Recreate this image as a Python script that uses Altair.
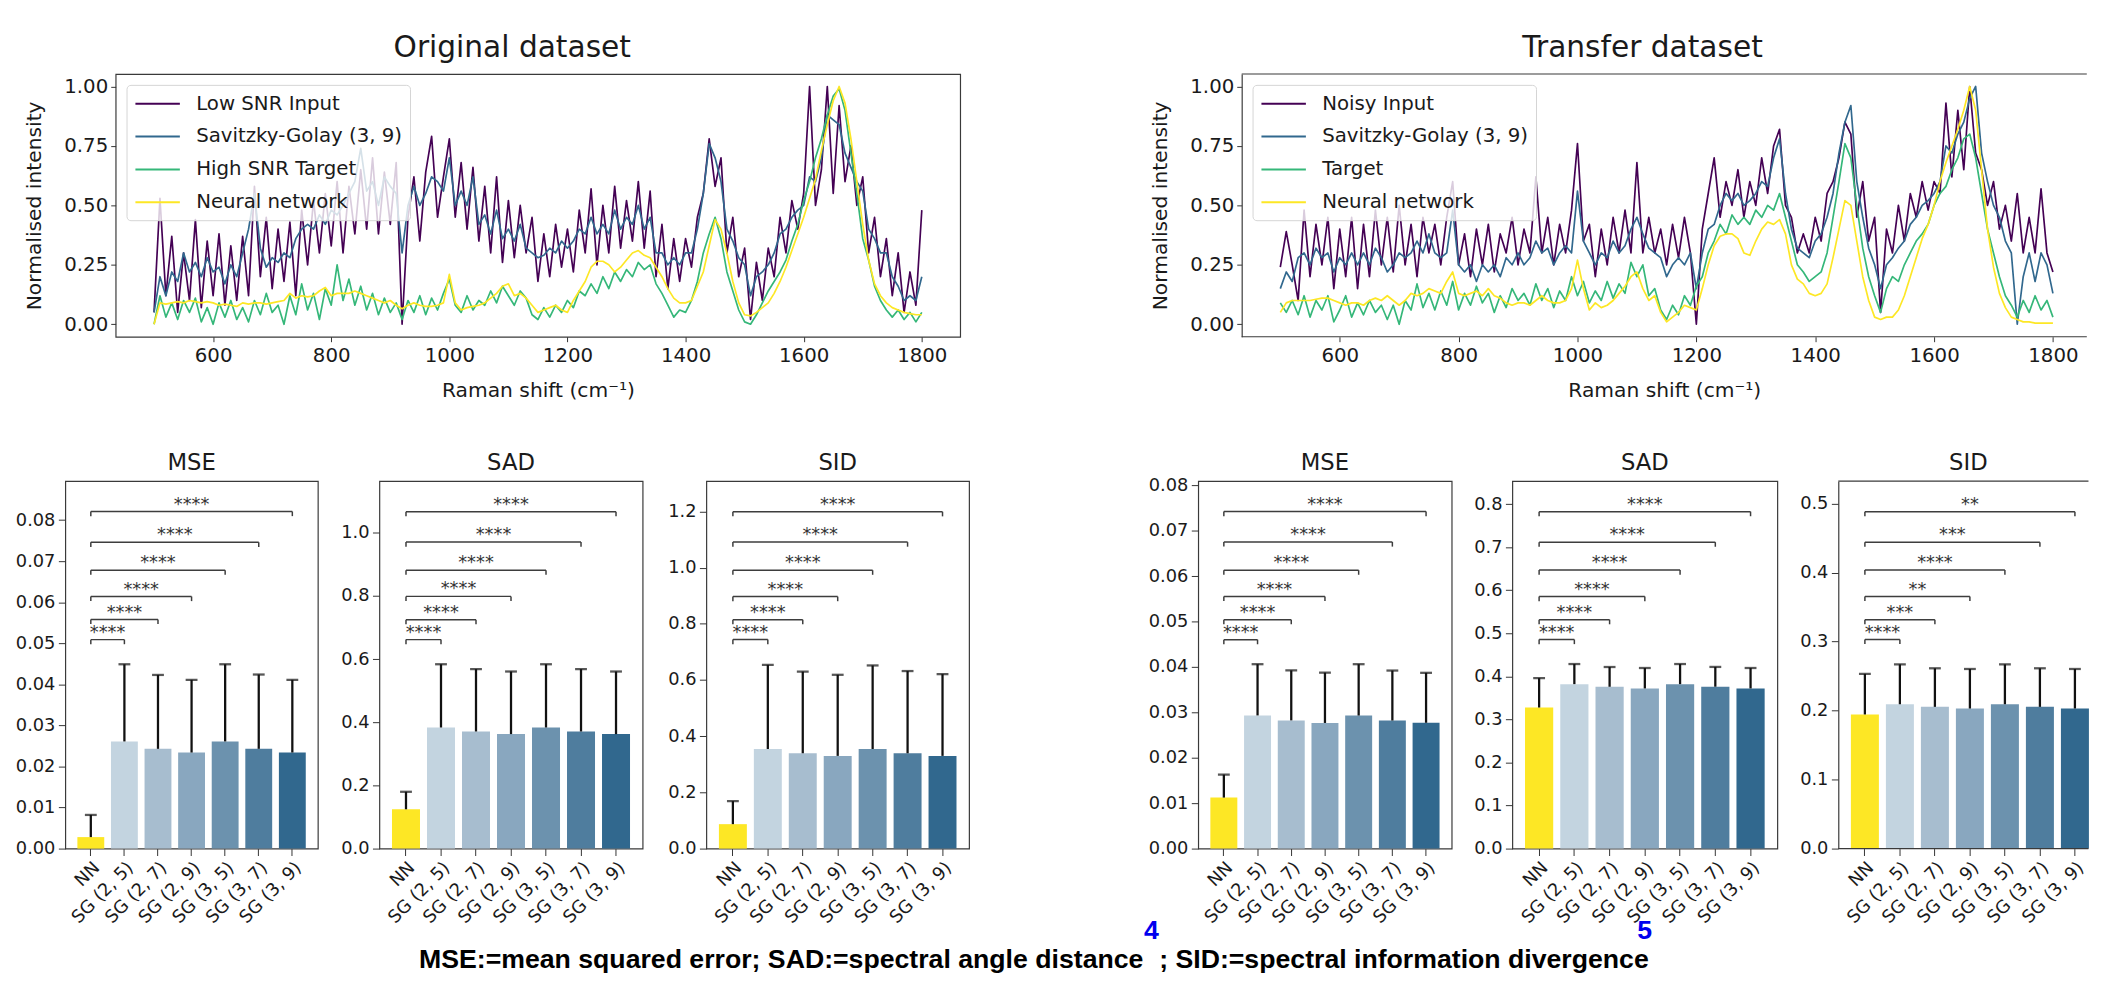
import altair as alt
import pandas as pd

FONT = "DejaVu Sans"
FOOT_FONT = "Liberation Sans"
INK = "#1a1a1a"
FRAME = "#3a3a3a"

# ---------------- spectra (Raman shift grid, cm^-1) ----------------
SHIFT = list(range(500, 1801, 10))

O_INPUT = [
    0.05, 0.53, 0.12, 0.37, 0.05, 0.30, 0.10, 0.44, 0.07, 0.35,
    0.12, 0.38, 0.08, 0.33, 0.10, 0.37, 0.12, 0.58, 0.20, 0.45,
    0.15, 0.40, 0.18, 0.43, 0.12, 0.48, 0.25, 0.52, 0.30, 0.55,
    0.33, 0.60, 0.30, 0.58, 0.38, 0.65, 0.40, 0.70, 0.38, 0.64,
    0.42, 0.68, 0.00, 0.45, 0.62, 0.35, 0.64, 0.79, 0.45, 0.62,
    0.78, 0.45, 0.68, 0.40, 0.66, 0.35, 0.58, 0.30, 0.62, 0.26,
    0.52, 0.28, 0.50, 0.30, 0.45, 0.18, 0.38, 0.20, 0.42, 0.24,
    0.40, 0.22, 0.48, 0.30, 0.57, 0.25, 0.50, 0.30, 0.58, 0.32,
    0.52, 0.35, 0.60, 0.32, 0.56, 0.20, 0.42, 0.15, 0.36, 0.18,
    0.36, 0.24, 0.45, 0.55, 0.78, 0.58, 0.70, 0.30, 0.45, 0.20,
    0.32, 0.02, 0.26, 0.10, 0.32, 0.20, 0.45, 0.30, 0.52, 0.40,
    0.55, 1.00, 0.50, 0.65, 1.00, 0.55, 0.92, 0.60, 0.75, 0.50,
    0.62, 0.30, 0.45, 0.20, 0.36, 0.12, 0.30, 0.05, 0.22, 0.08,
    0.48]
O_SG = [
    0.05, 0.20, 0.12, 0.22, 0.18, 0.30, 0.22, 0.26, 0.20, 0.28,
    0.22, 0.24, 0.17, 0.25, 0.20, 0.30, 0.40, 0.55, 0.32, 0.24,
    0.28, 0.26, 0.30, 0.28, 0.36, 0.40, 0.42, 0.40, 0.46, 0.42,
    0.48, 0.46, 0.50, 0.55, 0.60, 0.74, 0.56, 0.60, 0.50, 0.62,
    0.58, 0.55, 0.30, 0.50, 0.58, 0.50, 0.55, 0.62, 0.60, 0.56,
    0.70, 0.50, 0.56, 0.50, 0.62, 0.42, 0.46, 0.38, 0.48, 0.36,
    0.40, 0.35, 0.42, 0.32, 0.30, 0.28, 0.29, 0.32, 0.30, 0.35,
    0.32, 0.35, 0.40, 0.38, 0.45, 0.38, 0.42, 0.38, 0.48, 0.40,
    0.45, 0.42, 0.50, 0.40, 0.45, 0.30, 0.30, 0.25, 0.28, 0.25,
    0.30, 0.30, 0.40, 0.55, 0.76, 0.70, 0.60, 0.40, 0.35, 0.28,
    0.25, 0.12, 0.20, 0.22, 0.25, 0.30, 0.38, 0.40, 0.45, 0.48,
    0.50, 0.62, 0.60, 0.70, 0.88, 0.86, 0.84, 0.72, 0.66, 0.60,
    0.56, 0.40, 0.36, 0.30, 0.30, 0.20, 0.16, 0.10, 0.12, 0.10,
    0.20]
O_TARGET = [
    0.00, 0.12, 0.03, 0.09, 0.02, 0.10, 0.05, 0.11, 0.01, 0.07,
    0.00, 0.09, 0.03, 0.10, 0.02, 0.07, 0.01, 0.10, 0.04, 0.13,
    0.05, 0.08, 0.00, 0.12, 0.04, 0.17, 0.06, 0.13, 0.02, 0.15,
    0.08, 0.25, 0.10, 0.19, 0.08, 0.16, 0.06, 0.13, 0.04, 0.11,
    0.05, 0.09, 0.02, 0.10, 0.05, 0.12, 0.04, 0.11, 0.06, 0.13,
    0.19, 0.08, 0.05, 0.12, 0.06, 0.10, 0.08, 0.14, 0.09, 0.16,
    0.12, 0.08, 0.14, 0.11, 0.04, 0.02, 0.07, 0.03, 0.08, 0.05,
    0.10, 0.07, 0.14, 0.12, 0.17, 0.13, 0.20, 0.15, 0.22, 0.18,
    0.23, 0.20, 0.26, 0.23, 0.25, 0.17, 0.13, 0.08, 0.03, 0.06,
    0.05, 0.10, 0.18, 0.30, 0.38, 0.45, 0.36, 0.22, 0.14, 0.06,
    0.01, 0.00, 0.04, 0.09, 0.14, 0.18, 0.22, 0.27, 0.35, 0.42,
    0.52, 0.60, 0.70, 0.78, 0.88, 0.96, 0.99, 0.90, 0.72, 0.55,
    0.36, 0.27, 0.16, 0.10, 0.06, 0.03, 0.06, 0.02, 0.05, 0.01,
    0.05]
O_NN = [
    0.00, 0.09, 0.085, 0.09, 0.095, 0.09, 0.10, 0.095, 0.09, 0.095,
    0.09, 0.08, 0.085, 0.08, 0.075, 0.09, 0.085, 0.09, 0.09, 0.085,
    0.09, 0.095, 0.10, 0.13, 0.11, 0.12, 0.115, 0.12, 0.14, 0.155,
    0.12, 0.13, 0.13, 0.13, 0.14, 0.13, 0.12, 0.11, 0.10, 0.09,
    0.10, 0.08, 0.065, 0.08, 0.09, 0.08, 0.075, 0.075, 0.08, 0.09,
    0.21, 0.09, 0.06, 0.07, 0.075, 0.08, 0.09, 0.11, 0.13, 0.16,
    0.17, 0.12, 0.13, 0.11, 0.08, 0.05, 0.06, 0.07, 0.08, 0.06,
    0.05, 0.10, 0.14, 0.18, 0.24, 0.265, 0.265, 0.25, 0.22, 0.24,
    0.27, 0.30, 0.31, 0.29, 0.28, 0.24, 0.20, 0.15, 0.11, 0.09,
    0.09, 0.10, 0.16, 0.22, 0.33, 0.44, 0.40, 0.30, 0.18, 0.09,
    0.04, 0.035, 0.05, 0.07, 0.09, 0.13, 0.18, 0.24, 0.31, 0.38,
    0.45, 0.53, 0.61, 0.73, 0.84, 0.94, 1.00, 0.93, 0.78, 0.60,
    0.42, 0.27, 0.17, 0.12, 0.09, 0.07, 0.06, 0.05, 0.045, 0.04,
    0.04]

T_INPUT = [
    0.24, 0.39, 0.25, 0.10, 0.48, 0.20, 0.42, 0.25, 0.45, 0.15,
    0.40, 0.20, 0.45, 0.15, 0.42, 0.20, 0.48, 0.25, 0.45, 0.22,
    0.50, 0.25, 0.42, 0.20, 0.45, 0.30, 0.42, 0.25, 0.45, 0.60,
    0.25, 0.38, 0.20, 0.40, 0.25, 0.42, 0.22, 0.38, 0.30, 0.45,
    0.25, 0.40, 0.30, 0.62, 0.30, 0.45, 0.25, 0.42, 0.30, 0.48,
    0.76, 0.35, 0.42, 0.20, 0.40, 0.25, 0.45, 0.30, 0.48, 0.30,
    0.68, 0.30, 0.45, 0.30, 0.40, 0.25, 0.42, 0.28, 0.45, 0.30,
    0.00, 0.40, 0.55, 0.70, 0.45, 0.60, 0.50, 0.65, 0.45, 0.60,
    0.50, 0.70, 0.55, 0.75, 0.82, 0.50, 0.45, 0.30, 0.38, 0.30,
    0.45, 0.35, 0.55, 0.60, 0.70, 0.85, 0.80, 0.45, 0.60, 0.35,
    0.45, 0.05, 0.40, 0.30, 0.50, 0.35, 0.55, 0.45, 0.60, 0.48,
    0.60, 0.55, 0.93, 0.62, 0.90, 0.65, 1.00, 0.72, 0.65, 0.50,
    0.60, 0.40, 0.50, 0.35, 0.55, 0.30, 0.45, 0.30, 0.57, 0.30,
    0.22]
T_SG = [
    0.15, 0.22, 0.18, 0.28, 0.30, 0.25, 0.32, 0.28, 0.30, 0.22,
    0.28, 0.25, 0.30, 0.25, 0.30, 0.25, 0.32, 0.28, 0.22, 0.25,
    0.30, 0.28, 0.30, 0.35, 0.30, 0.38, 0.30, 0.28, 0.30, 0.48,
    0.25, 0.22, 0.25, 0.18, 0.25, 0.22, 0.25, 0.20, 0.28, 0.25,
    0.30, 0.25, 0.28, 0.35, 0.30, 0.32, 0.25, 0.30, 0.33, 0.30,
    0.56, 0.35, 0.30, 0.25, 0.30, 0.28, 0.35, 0.30, 0.33, 0.40,
    0.45, 0.38, 0.32, 0.30, 0.28, 0.20, 0.25, 0.28, 0.25, 0.30,
    0.15, 0.30, 0.40, 0.42, 0.50, 0.55, 0.52, 0.55, 0.50, 0.52,
    0.55, 0.60, 0.58, 0.70, 0.78, 0.55, 0.40, 0.32, 0.30, 0.28,
    0.35, 0.38, 0.45, 0.55, 0.72, 0.85, 0.92, 0.60, 0.45, 0.32,
    0.25, 0.15, 0.25, 0.28, 0.32, 0.35, 0.42, 0.45, 0.50, 0.52,
    0.55, 0.60, 0.75, 0.72, 0.80, 0.85, 0.95, 1.00, 0.72, 0.60,
    0.50, 0.45, 0.35, 0.30, 0.00, 0.20, 0.30, 0.18, 0.30, 0.25,
    0.13]
T_TARGET = [
    0.09, 0.05, 0.10, 0.04, 0.12, 0.03, 0.10, 0.06, 0.12, 0.01,
    0.06, 0.12, 0.03, 0.09, 0.04, 0.10, 0.05, 0.08, 0.02, 0.08,
    0.00, 0.10, 0.06, 0.17, 0.07, 0.13, 0.06, 0.14, 0.08, 0.18,
    0.06, 0.13, 0.08, 0.16, 0.09, 0.13, 0.05, 0.12, 0.07, 0.15,
    0.10, 0.13, 0.08, 0.17, 0.10, 0.15, 0.07, 0.14, 0.10, 0.20,
    0.12, 0.18, 0.09, 0.14, 0.10, 0.18, 0.11, 0.17, 0.13, 0.26,
    0.20, 0.25, 0.12, 0.15, 0.06, 0.02, 0.08, 0.04, 0.12, 0.08,
    0.16, 0.20, 0.30, 0.35, 0.42, 0.38, 0.46, 0.42, 0.45, 0.42,
    0.48, 0.45, 0.50, 0.48, 0.55, 0.45, 0.35, 0.25, 0.22, 0.18,
    0.20, 0.22, 0.30, 0.45, 0.60, 0.76, 0.70, 0.50, 0.32, 0.20,
    0.12, 0.05, 0.15, 0.20, 0.18, 0.25, 0.30, 0.35, 0.38, 0.42,
    0.50, 0.55, 0.58, 0.65, 0.70, 0.78, 0.80, 0.70, 0.55, 0.40,
    0.30, 0.20, 0.12, 0.08, 0.03, 0.10, 0.05, 0.12, 0.06, 0.10,
    0.03]
T_NN = [
    0.05, 0.09, 0.10, 0.10, 0.10, 0.10, 0.105, 0.11, 0.11, 0.10,
    0.09, 0.08, 0.09, 0.09, 0.08, 0.10, 0.11, 0.10, 0.12, 0.10,
    0.08, 0.10, 0.13, 0.12, 0.13, 0.15, 0.14, 0.13, 0.18, 0.22,
    0.13, 0.12, 0.13, 0.14, 0.12, 0.15, 0.12, 0.11, 0.09, 0.08,
    0.09, 0.09, 0.08, 0.10, 0.12, 0.10, 0.09, 0.09, 0.10, 0.15,
    0.27, 0.15, 0.06, 0.09, 0.07, 0.08, 0.10, 0.13, 0.16, 0.20,
    0.22, 0.15, 0.10, 0.12, 0.05, 0.01, 0.03, 0.05, 0.08, 0.07,
    0.06, 0.15, 0.25, 0.33, 0.37, 0.38, 0.38, 0.36, 0.30, 0.29,
    0.35, 0.40, 0.43, 0.42, 0.44, 0.38, 0.25, 0.19, 0.17, 0.13,
    0.12, 0.13, 0.17, 0.28, 0.40, 0.52, 0.50, 0.35, 0.20, 0.10,
    0.03, 0.02, 0.03, 0.03, 0.06, 0.12, 0.20, 0.28, 0.36, 0.42,
    0.50, 0.60, 0.68, 0.75, 0.82, 0.90, 1.00, 0.90, 0.65, 0.40,
    0.24, 0.13, 0.07, 0.03, 0.02, 0.01, 0.01, 0.005, 0.005, 0.005,
    0.005]

for _arr in (O_INPUT, O_SG, O_TARGET, O_NN, T_INPUT, T_SG, T_TARGET, T_NN):
    assert len(_arr) == len(SHIFT), len(_arr)

O_NAMES = ["Low SNR Input", "Savitzky-Golay (3, 9)", "High SNR Target", "Neural network"]
T_NAMES = ["Noisy Input", "Savitzky-Golay (3, 9)", "Target", "Neural network"]
LINE_COLORS = ["#440154", "#31688e", "#35b779", "#fde725"]
X_TICKS = [600, 800, 1000, 1200, 1400, 1600, 1800]
Y_TICKS = [0, 0.25, 0.5, 0.75, 1.0]

# ---------------- metrics ----------------
CATS = ["NN", "SG (2, 5)", "SG (2, 7)", "SG (2, 9)", "SG (3, 5)", "SG (3, 7)", "SG (3, 9)"]
BAR_COLORS = ["#fde725", "#c3d4e0", "#a7bdcf", "#89a7bf", "#6c92ae", "#4f7d9e", "#31688e"]

O_MSE_MEAN = [0.0028, 0.0261, 0.0243, 0.0234, 0.0261, 0.0243, 0.0234]
O_MSE_UP = [0.0082, 0.0449, 0.0423, 0.0411, 0.0449, 0.0424, 0.0411]
O_SAD_MEAN = [0.1245, 0.3836, 0.371, 0.3627, 0.3836, 0.371, 0.3627]
O_SAD_UP = [0.180, 0.584, 0.5686, 0.561, 0.584, 0.5686, 0.561]
O_SID_MEAN = [0.087, 0.3546, 0.3394, 0.330, 0.3546, 0.3394, 0.330]
O_SID_UP = [0.169, 0.654, 0.630, 0.6187, 0.652, 0.632, 0.621]
T_MSE_MEAN = [0.01123, 0.02932, 0.02823, 0.02766, 0.0293, 0.0282, 0.0277]
T_MSE_UP = [0.01629, 0.0406, 0.03924, 0.03874, 0.0406, 0.0392, 0.0387]
T_SAD_MEAN = [0.3277, 0.382, 0.3759, 0.372, 0.382, 0.376, 0.372]
T_SAD_UP = [0.396, 0.4287, 0.4218, 0.4195, 0.4287, 0.422, 0.4195]
T_SID_MEAN = [0.1944, 0.2092, 0.2054, 0.203, 0.2092, 0.2054, 0.203]
T_SID_UP = [0.2532, 0.267, 0.2613, 0.2603, 0.267, 0.2613, 0.2603]

# significance brackets NN vs SG_i: height (data units) and stars
BR_END = [1, 2, 3, 4, 5, 6]
O_MSE_H = [0.0509, 0.0558, 0.0614, 0.0678, 0.0746, 0.0821]
O_SAD_H = [0.662, 0.725, 0.799, 0.882, 0.971, 1.067]
O_SID_H = [0.744, 0.815, 0.897, 0.991, 1.091, 1.199]
T_MSE_H = [0.0460, 0.0504, 0.0555, 0.0613, 0.0675, 0.0742]
T_SAD_H = [0.4856, 0.5317, 0.5855, 0.6469, 0.7118, 0.7827]
T_SID_H = [0.3030, 0.3317, 0.3653, 0.4036, 0.4441, 0.4883]
STARS_ALL = ["****", "****", "****", "****", "****", "****"]
T_SID_STARS = ["****", "***", "**", "****", "***", "**"]

FOOT_A = "MSE:=mean squared error; SAD:=spectral angle distance"
FOOT_4 = "4"
FOOT_B = "; SID:=spectral information divergence"
FOOT_5 = "5"


def spacer(w):
    return alt.Chart(pd.DataFrame({"t": [" "]})).mark_text(
        align="left", baseline="top", fontSize=2
    ).encode(text="t:N", x=alt.value(0), y=alt.value(0)).properties(
        width=w, height=1, view=alt.ViewBackground(stroke="transparent"))


def title_text(txt, x, y, size):
    return alt.Chart(pd.DataFrame({"t": [txt]})).mark_text(
        font=FONT, fontSize=size, color=INK, align="center", baseline="alphabetic"
    ).encode(text="t:N", x=alt.value(x), y=alt.value(y))


def frame_edges(width, height):
    # top and bottom spines of a panel whose right edge is cut off by the page
    one = pd.DataFrame({"k": [0]})
    top = alt.Chart(one).mark_rule(color=FRAME, strokeWidth=1.2).encode(
        x=alt.value(0), x2=alt.value(width), y=alt.value(0))
    bottom = alt.Chart(one).mark_rule(color=FRAME, strokeWidth=1.2).encode(
        x=alt.value(0), x2=alt.value(width), y=alt.value(height))
    return [top, bottom]


def spectrum(title, names, series, width, xmax, title_dx, open_right=False):
    rows = []
    for name, vals in zip(names, series):
        for s, v in zip(SHIFT, vals):
            rows.append({"shift": s, "value": v, "series": name})
    df = pd.DataFrame(rows)
    x = alt.X("shift:Q", scale=alt.Scale(domain=[435, xmax], nice=False, zero=False),
              axis=alt.Axis(values=X_TICKS, format="d", title="Raman shift (cm⁻¹)",
                            labelFont=FONT, labelFontSize=20, labelColor=INK, labelPadding=4,
                            labelFlush=False, tickSize=5, tickColor="#333", domain=False, grid=False,
                            titleFont=FONT, titleFontSize=20.5, titleFontWeight="normal",
                            titleColor=INK, titleBaseline="alphabetic", titleY=61))
    y = alt.Y("value:Q", scale=alt.Scale(domain=[-0.0525, 1.0525], nice=False, zero=False),
              axis=alt.Axis(values=Y_TICKS, format=".2f", title="Normalised intensity",
                            labelFont=FONT, labelFontSize=20, labelColor=INK, labelPadding=3,
                            labelFlush=False, tickSize=5, tickColor="#333", grid=False,
                            domain=open_right, domainColor=FRAME, domainWidth=1.2,
                            titleFont=FONT, titleFontSize=20.5, titleFontWeight="normal",
                            titleColor=INK, titleX=-82.5, titleY=133, titleBaseline="middle",
                            titleAlign="center"))
    color = alt.Color("series:N", scale=alt.Scale(domain=names, range=LINE_COLORS),
                      legend=alt.Legend(title=None, orient="top-left", offset=11, padding=8,
                                        fillColor="rgba(255,255,255,0.8)", strokeColor="#d4d4d4",
                                        cornerRadius=4, symbolType="M-2.25,0L2.25,0",
                                        symbolSize=400, symbolOffset=12.5,
                                        symbolStrokeWidth=2, labelFont=FONT, labelFontSize=20,
                                        labelColor=INK, labelOffset=28, rowPadding=12.3,
                                        labelLimit=400))
    layers = [
        alt.Chart(df).transform_filter(alt.datum.series == n).mark_line(
            strokeWidth=1.7, strokeJoin="round", clip=True).encode(x=x, y=y, color=color)
        for n in names
    ]
    layers.append(title_text(title, width / 2 + title_dx, -17.6, 30))
    props = dict(width=width, height=266)
    if open_right:
        layers += frame_edges(width, 266)
        props["view"] = alt.ViewBackground(stroke="transparent")
    return alt.layer(*layers).properties(**props)


def foot_text(txt, x, y, color, align="left"):
    return alt.Chart(pd.DataFrame({"t": [txt]})).mark_text(
        font=FOOT_FONT, fontSize=27, fontWeight="bold", color=color, align=align,
        baseline="alphabetic").encode(text="t:N", x=alt.value(x), y=alt.value(y))


def bar_panel(title, means, uppers, heights, stars, ymax, yticks, fmt, width,
              band_range=None, title_dx=0, extra=None, open_right=False):
    xs_kw = dict(domain=CATS, paddingInner=0.2, paddingOuter=0.36)
    lin_kw = dict(domain=[-0.76, 6.76], nice=False, zero=False)
    if band_range is not None:
        xs_kw["range"] = band_range
        lin_kw["range"] = band_range
    xb = alt.X("cat:N", sort=CATS, scale=alt.Scale(**xs_kw), title=None,
               axis=alt.Axis(labelAngle=-45, labelAlign="right", labelBaseline="top",
                             labelFont=FONT, labelFontSize=18, labelColor=INK, labelPadding=3,
                             labelOverlap=False, labelFlush=False, tickSize=7, tickColor="#333",
                             domain=False, grid=False))
    yscale = alt.Scale(domain=[0, ymax], nice=False, zero=False)
    yaxis = alt.Axis(values=yticks, format=fmt, title=None, labelFont=FONT, labelFontSize=18,
                     labelColor=INK, labelPadding=3.5, labelFlush=False, labelOverlap=False,
                     tickSize=7, tickColor="#333", grid=False,
                     domain=open_right, domainColor=FRAME, domainWidth=1.2)

    def yq(field):
        return alt.Y(f"{field}:Q", scale=yscale, axis=yaxis)

    df = pd.DataFrame({"cat": CATS, "mean": means, "upper": uppers})
    base = alt.Chart(df)
    bars = base.mark_bar().encode(
        x=xb, y=yq("mean"),
        color=alt.Color("cat:N", scale=alt.Scale(domain=CATS, range=BAR_COLORS), legend=None))
    err = base.mark_rule(color="#111111", strokeWidth=2.3).encode(x=xb, y=yq("mean"), y2="upper:Q")
    cap = base.mark_tick(color="#111111", thickness=2.3, size=12).encode(x=xb, y=yq("upper"))
    band_layer = alt.layer(bars, err, cap)

    bdf = pd.DataFrame({"x0": [0] * len(BR_END), "x1": BR_END, "h": heights, "stars": stars})
    bdf["mid"] = bdf["x1"] / 2
    bdf["low"] = bdf["h"] - ymax * 0.0125

    def xl(field):
        return alt.X(f"{field}:Q", scale=alt.Scale(**lin_kw), axis=None)

    bb = alt.Chart(bdf)
    hline = bb.mark_rule(color="#3d3d3d", strokeWidth=1.5).encode(x=xl("x0"), x2="x1:Q", y=yq("h"))
    lt = bb.mark_rule(color="#3d3d3d", strokeWidth=1.5).encode(x=xl("x0"), y=yq("h"), y2="low:Q")
    rt = bb.mark_rule(color="#3d3d3d", strokeWidth=1.5).encode(x=xl("x1"), y=yq("h"), y2="low:Q")
    txt = bb.mark_text(font=FONT, fontSize=18, color="#333333", baseline="alphabetic",
                       dy=-2).encode(x=xl("mid"), y=yq("h"), text="stars:N")
    br_layer = alt.layer(hline, lt, rt, txt)
    layers = [band_layer, br_layer, title_text(title, width / 2 + title_dx, -11.2, 23)]
    layers += (extra or [])
    props = dict(width=width, height=372)
    if open_right:
        layers += frame_edges(width, 372)
        props["view"] = alt.ViewBackground(stroke="transparent")
    return alt.layer(*layers).resolve_scale(x="independent").properties(**props)


spec_o = spectrum("Original dataset", O_NAMES, [O_INPUT, O_SG, O_TARGET, O_NN], 855, 1865, -26)
spec_t = spectrum("Transfer dataset", T_NAMES, [T_INPUT, T_SG, T_TARGET, T_NN], 855.6, 1857,
                  -22, open_right=True)

# footnote: text A ends where superscript 4 starts; B follows it, then superscript 5
footnote = [
    foot_text(FOOT_A, 1091.5, 492.5, "#000000", align="right"),
    foot_text(FOOT_4, 1092, 464, "#0000ee"),
    foot_text(FOOT_B, 1107.5, 492.5, "#000000"),
    foot_text(FOOT_5, 1591.5, 464, "#0000ee"),
]

MSE_T = [0, 0.01, 0.02, 0.03, 0.04, 0.05, 0.06, 0.07, 0.08]
mse_o = bar_panel("MSE", O_MSE_MEAN, O_MSE_UP, O_MSE_H, STARS_ALL, 0.0895, MSE_T, ".2f", 255.7,
                  extra=footnote)
sad_o = bar_panel("SAD", O_SAD_MEAN, O_SAD_UP, O_SAD_H, STARS_ALL, 1.164,
                  [0, 0.2, 0.4, 0.6, 0.8, 1.0], ".1f", 266.5)
sid_o = bar_panel("SID", O_SID_MEAN, O_SID_UP, O_SID_H, STARS_ALL, 1.308,
                  [0, 0.2, 0.4, 0.6, 0.8, 1.0, 1.2], ".1f", 266)
mse_t = bar_panel("MSE", T_MSE_MEAN, T_MSE_UP, T_MSE_H, STARS_ALL, 0.0809, MSE_T, ".2f", 256.6)
sad_t = bar_panel("SAD", T_SAD_MEAN, T_SAD_UP, T_SAD_H, STARS_ALL, 0.8535,
                  [0, 0.1, 0.2, 0.3, 0.4, 0.5, 0.6, 0.7, 0.8], ".1f", 268.3)
sid_t = bar_panel("SID", T_SID_MEAN, T_SID_UP, T_SID_H, T_SID_STARS, 0.5325,
                  [0, 0.1, 0.2, 0.3, 0.4, 0.5], ".1f", 253.3, band_range=[0, 266.5], title_dx=5,
                  open_right=True)

top_row = alt.hconcat(spacer(107.7), spec_o, spacer(284.7), spec_t,
                      spacing=0, bounds="flush").resolve_scale(color="independent")
bottom_row = alt.hconcat(spacer(57), mse_o, spacer(62), sad_o, spacer(63.8), sid_o, spacer(231.9),
                         mse_t, spacer(60.5), sad_t, spacer(60.4), sid_t,
                         spacing=0, bounds="flush")

chart = alt.vconcat(top_row, bottom_row, spacing=49.2).resolve_scale(
    color="independent"
).properties(
    padding={"left": 0, "top": 17.8, "right": 0, "bottom": 0}
).configure_view(stroke=FRAME, strokeWidth=1.2)

chart.save("out.html", embed_options={"renderer": "svg", "actions": False})
